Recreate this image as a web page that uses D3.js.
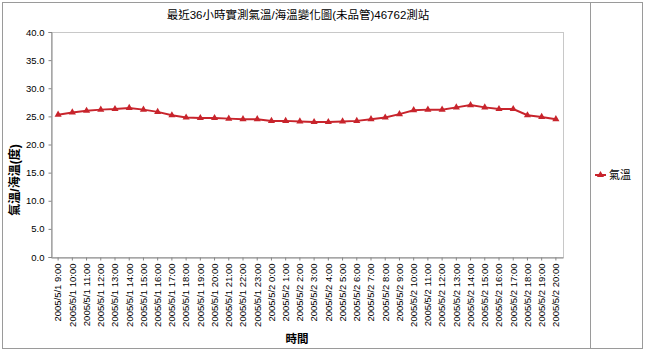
<!DOCTYPE html>
<html>
<head>
<meta charset="utf-8">
<script src="https://cdn.jsdelivr.net/npm/d3@7"></script>
<style>
  body { margin: 0; background: #fff; }
  svg { display: block; }
</style>
</head>
<body>
<svg id="chart" width="645" height="353"></svg>
<script>
// hourly labels, 2005/5/1 9:00 .. 2005/5/2 20:00
let hours = ["2005/5/1 9:00", "2005/5/1 10:00", "2005/5/1 11:00", "2005/5/1 12:00",
    "2005/5/1 13:00", "2005/5/1 14:00", "2005/5/1 15:00", "2005/5/1 16:00",
    "2005/5/1 17:00", "2005/5/1 18:00", "2005/5/1 19:00", "2005/5/1 20:00",
    "2005/5/1 21:00", "2005/5/1 22:00", "2005/5/1 23:00", "2005/5/2 0:00",
    "2005/5/2 1:00", "2005/5/2 2:00", "2005/5/2 3:00", "2005/5/2 4:00",
    "2005/5/2 5:00", "2005/5/2 6:00", "2005/5/2 7:00", "2005/5/2 8:00",
    "2005/5/2 9:00", "2005/5/2 10:00", "2005/5/2 11:00", "2005/5/2 12:00",
    "2005/5/2 13:00", "2005/5/2 14:00", "2005/5/2 15:00", "2005/5/2 16:00",
    "2005/5/2 17:00", "2005/5/2 18:00", "2005/5/2 19:00", "2005/5/2 20:00"];

let airTemp = [25.3, 25.7, 26.0, 26.2, 26.3, 26.5, 26.2, 25.8, 25.2, 24.8, 24.7, 24.7,
    24.6, 24.5, 24.5, 24.2, 24.2, 24.1, 24.0, 24.0, 24.1, 24.2, 24.5, 24.8,
    25.4, 26.1, 26.2, 26.2, 26.6, 27.0, 26.6, 26.3, 26.3, 25.2, 24.9, 24.5];

let yTicks = [0, 5, 10, 15, 20, 25, 30, 35, 40];

let titleText = "最近36小時實測氣溫/海溫變化圖(未品管)46762測站";
let seriesName = "氣溫";
let xTitle = "時間";
let yTitle = "氣溫/海溫(度)";

let svg = d3.select("#chart");
let fontFamily = "'Liberation Sans', Arial, 'Noto Sans CJK TC', sans-serif";
let axisColor = "#868686";
let lineColor = "#c8242c";

let plot = { left: 51, right: 563, top: 32, bottom: 257 };

let x = d3.scaleBand()
    .domain(hours)
    .range([plot.left, plot.right]);

let y = d3.scaleLinear()
    .domain([0, 40])
    .range([plot.bottom, plot.top]);

// outer frame
svg.append("rect")
    .attr("x", 2.5).attr("y", 2.5)
    .attr("width", 640).attr("height", 346)
    .attr("fill", "#fff")
    .attr("stroke", "#9a9a9a");

// legend box edge
svg.append("line")
    .attr("x1", 590.5).attr("x2", 590.5)
    .attr("y1", 2.5).attr("y2", 348.5)
    .attr("stroke", "#9a9a9a");

// plot area border
svg.append("rect")
    .attr("x", plot.left + 0.5).attr("y", plot.top + 0.5)
    .attr("width", plot.right - plot.left)
    .attr("height", plot.bottom - plot.top)
    .attr("fill", "none")
    .attr("stroke", "#c8c8c8");

// y axis
let yAxis = svg.append("g")
    .attr("transform", "translate(" + (plot.left + 0.5) + ",0)")
    .call(d3.axisLeft(y).tickValues(yTicks).tickSize(3).tickFormat(d3.format(".1f")));
yAxis.select(".domain").attr("stroke", axisColor);
yAxis.selectAll(".tick line").attr("stroke", axisColor);
yAxis.selectAll("text")
    .attr("x", -7)
    .style("font-family", fontFamily)
    .style("font-size", "9.5px")
    .attr("fill", "#000");

// x axis
let xAxis = svg.append("g")
    .attr("transform", "translate(0," + (plot.bottom + 0.5) + ")")
    .call(d3.axisBottom(x).tickSize(3).tickSizeOuter(0));
xAxis.select(".domain").attr("stroke", axisColor);
xAxis.selectAll(".tick line").attr("stroke", axisColor);
xAxis.selectAll("text")
    .attr("transform", "rotate(-90)")
    .attr("x", -6)
    .attr("y", 0)
    .attr("dy", "0.35em")
    .style("text-anchor", "end")
    .style("font-family", fontFamily)
    .style("font-size", "9.5px")
    .attr("fill", "#000");

// data line
let lineGen = d3.line()
    .x(function(d, i) { return x(hours[i]) + x.bandwidth() / 2; })
    .y(function(d) { return y(d); });

svg.append("path")
    .datum(airTemp)
    .attr("d", lineGen)
    .attr("fill", "none")
    .attr("stroke", lineColor)
    .attr("stroke-width", 2);

let triangle = d3.symbol().type(d3.symbolTriangle).size(22);

svg.selectAll(".marker")
    .data(airTemp)
    .enter().append("path")
    .attr("class", "marker")
    .attr("d", triangle)
    .attr("transform", function(d, i) {
        return "translate(" + (x(hours[i]) + x.bandwidth() / 2) + "," + y(d) + ")";
    })
    .attr("fill", lineColor);

// title
svg.append("text")
    .attr("x", 298)
    .attr("y", 19)
    .text(titleText)
    .style("text-anchor", "middle")
    .style("font-family", fontFamily)
    .style("font-size", "11.5px");

// axis titles
svg.append("text")
    .attr("x", 297)
    .attr("y", 343)
    .text(xTitle)
    .style("text-anchor", "middle")
    .style("font-family", fontFamily)
    .style("font-weight", "bold")
    .style("font-size", "11.5px");

svg.append("text")
    .attr("transform", "translate(19,180) rotate(-90)")
    .text(yTitle)
    .style("text-anchor", "middle")
    .style("font-family", fontFamily)
    .style("font-weight", "bold")
    .style("font-size", "12px");

// legend
svg.append("line")
    .attr("x1", 595).attr("x2", 606)
    .attr("y1", 175).attr("y2", 175)
    .attr("stroke", lineColor)
    .attr("stroke-width", 2);
svg.append("path")
    .attr("d", triangle)
    .attr("transform", "translate(600.5,175)")
    .attr("fill", lineColor);
svg.append("text")
    .attr("x", 609)
    .attr("y", 179)
    .text(seriesName)
    .style("font-family", fontFamily)
    .style("font-size", "11px");
</script>
</body>
</html>
